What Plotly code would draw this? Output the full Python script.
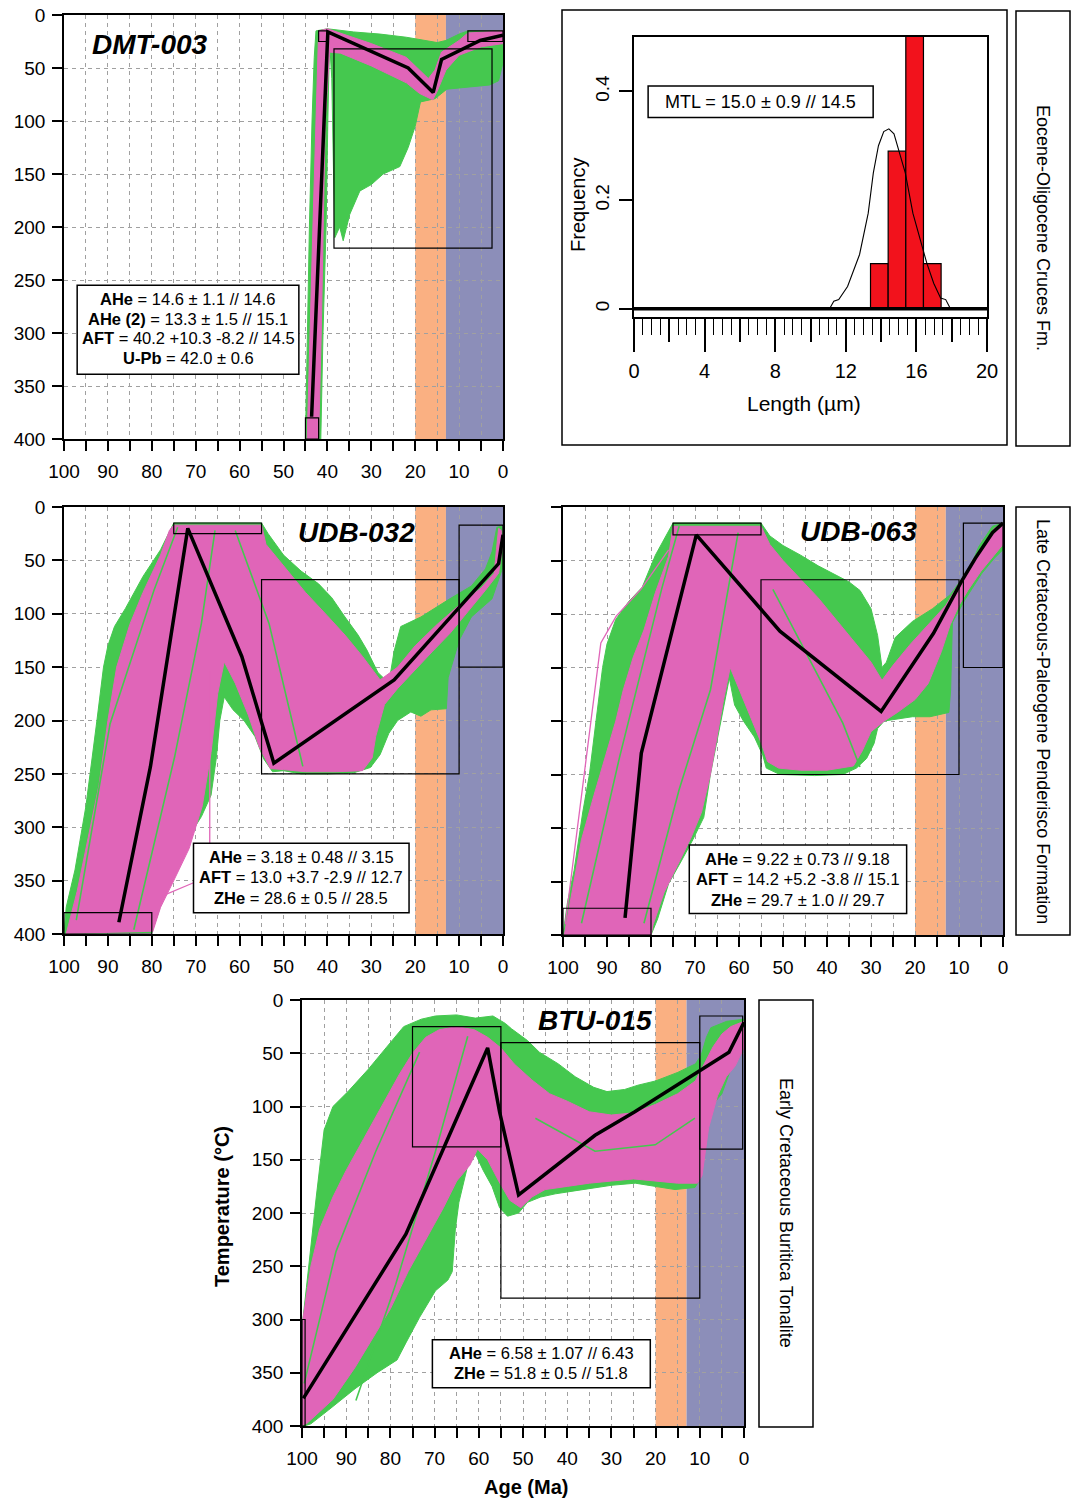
import plotly.graph_objects as go

W, H = 1075, 1501
FONT = "Liberation Sans, Arial, sans-serif"
GREEN = "#45C84F"
PINK = "#E065B8"
ORANGE = "#FAB082"
BLUE = "#8C8EB9"

# ---------------- data ----------------
AGE_TICKS = list(range(0, 101, 10))
AGE_MINOR = list(range(5, 100, 10))
TEMP_TICKS = list(range(0, 401, 50))
BAND_ORANGE = (20, 13)
BAND_BLUE = (13, 0)

# DMT-003
dmt_best_age = [43.6, 39.9, 21.6, 15.9, 14.0, 5.2, 0.0]
dmt_best_temp = [379, 16, 50, 73, 42, 24, 19]
dmt_green_age = [45, 44.6, 44.1, 43.5, 43.0, 42.6, 40, 34, 28, 22, 18, 15, 13, 10, 8, 0, 0, 1, 3, 8, 12.8,
                 15.5, 18.8, 20, 21.6, 23.5, 27.3, 30, 32.6, 34.9, 36.4, 37.2, 38.3, 38.6, 39.0, 39.4, 39.6,
                 39.9, 40.3, 41.0, 41.5]
dmt_green_temp = [400, 300, 200, 100, 40, 15, 13, 16, 18, 21, 24, 26, 24, 18, 15, 15, 45, 62, 66, 68, 70,
                  79, 82, 105, 125, 143, 150, 160, 166, 188, 213, 200, 210, 150, 60, 32, 40,
                  100, 200, 300, 400]
dmt_pink_age = [44.6, 44.0, 43.3, 42.6, 42.2, 42.0, 40, 30, 22, 17, 15.5, 14, 10, 8, 0, 0, 5, 10, 13, 15,
                16, 19, 22, 30, 37, 39.5, 40.5, 40.9, 41.4, 42.0]
dmt_pink_temp = [400, 300, 200, 100, 40, 15, 13, 27, 40, 60, 52, 35, 24, 17, 15, 27, 30, 38, 52, 72,
                 80, 74, 64, 48, 36, 35, 100, 200, 300, 400]
dmt_boxes = [(45, 42, 380, 400), (42, 40, 15, 25), (38.5, 2.5, 32, 220), (8, 0, 15, 25)]
dmt_info = ["<b>AHe</b> = 14.6 ± 1.1 // 14.6", "<b>AHe (2)</b> = 13.3 ± 1.5 // 15.1",
            "<b>AFT</b> = 40.2 +10.3 -8.2 // 14.5", "<b>U-Pb</b> = 42.0 ± 0.6"]

# UDB-032
u32_best_age = [87.5, 80.3, 71.8, 59.5, 52.2, 24.8, 1.0, 0.0]
u32_best_temp = [389, 243, 20, 140, 240, 162, 53, 26]
u32_green_age = [100, 99.5, 97.5, 95, 92.5, 91, 90, 88.5, 86, 82, 78, 75.5, 75, 55, 53.5, 50, 46, 42, 39, 36,
                 33, 31, 28.5, 26, 24.8, 23.3, 18.7, 12.5, 7.2, 4, 2.5, 1.4, 0.3, 0, 0, 2.5, 7.2, 10, 12.5,
                 12.9, 16.4, 18.7, 21, 24, 26, 28, 30.2, 34, 40, 46, 50, 52.5, 54.5, 56.5, 59, 61.5, 63.5,
                 64.5, 65.3, 66.5, 68.7, 71, 74.5, 77, 79, 80]
u32_green_temp = [400, 375, 340, 280, 200, 150, 130, 112, 95, 65, 40, 18, 15, 15, 25, 45, 60, 72, 85, 103,
                  120, 134, 155, 165, 135, 112, 103, 87, 74, 58, 42, 19, 18, 30, 56, 86, 103, 125, 160,
                  189, 190, 196, 192, 200, 212, 232, 244, 249, 250, 250, 247, 248, 236, 215, 200, 190, 178,
                  200, 235, 270, 290, 305, 330, 360, 385, 399]
u32_pink_age = [99.5, 97, 94.5, 92, 90, 88, 85, 82, 78, 76, 75, 55, 54, 50, 45, 40, 36, 32, 28, 24, 20, 15,
                10, 5, 2, 1.5, 1.0, 0.4, 0.2, 1, 4, 8, 12, 16, 20, 24, 27, 29, 29.8, 32, 38, 45, 50, 53,
                55.5, 58, 61, 63.5, 65, 66.5, 68.5, 71.5, 75, 78, 79.8]
u32_pink_temp = [400, 360, 310, 260, 200, 150, 110, 80, 45, 22, 17, 17, 35, 55, 80, 102, 120, 140, 162, 150,
                 130, 110, 92, 76, 62, 40, 20, 22, 40, 62, 78, 98, 118, 135, 152, 170, 185, 215, 235, 247,
                 248, 248, 246, 245, 225, 195, 165, 145, 175, 230, 280, 320, 350, 375, 398]
u32_out_age = [78, 70.5, 66.8, 66.8]
u32_out_temp = [365, 352, 349, 153]
u32_streaks = [([97.2, 89.5, 79.5, 74.1], [387, 203, 78, 19]),
               ([84.1, 74.8, 68.7, 65.6], [396, 234, 109, 22]),
               ([61, 53.3, 47.9, 45.6], [22, 109, 203, 243])]
u32_boxes = [(100, 80, 380, 400), (75, 55, 15, 25), (55, 10, 68, 250), (10, 0, 17, 150)]
u32_info = ["<b>AHe</b> = 3.18 ± 0.48 // 3.15", "<b>AFT</b> = 13.0 +3.7 -2.9 // 12.7",
            "<b>ZHe</b> = 28.6 ± 0.5 // 28.5"]

# UDB-063
u63_best_age = [85.9, 82.2, 69.7, 50.7, 27.7, 15.8, 9.5, 6.3, 2.4, 0.0]
u63_best_temp = [384, 230, 26, 116, 191, 118, 70, 48, 24, 15]
u63_green_age = [100, 99, 97.5, 95.5, 94, 92.5, 91, 90, 88, 85, 82, 79, 76, 75, 55, 53, 50, 46, 42, 38, 35,
                 32.5, 30, 28.5, 27.5, 26.5, 24.5, 20.6, 16, 12, 9.5, 7, 5.5, 2.4, 0, 0, 2, 4.8, 8.7, 11.5,
                 11.9, 12.3, 16.6, 20.6, 27, 28.5, 29.3, 31, 33.3, 36.4, 42.8, 50.7, 53.8, 54.6, 56.5, 59,
                 61, 62.2, 63.3, 65, 66.5, 68, 70.5, 73, 76, 78.5, 80]
u63_green_temp = [400, 370, 340, 285, 250, 200, 150, 128, 105, 88, 75, 45, 22, 15, 15, 27, 36, 45, 55, 64,
                  70, 78, 95, 120, 150, 145, 122, 107, 95, 82, 68, 52, 37, 18, 15, 40, 48, 62, 87, 108,
                  171, 192, 196, 196, 200, 207, 221, 235, 244, 250, 251, 250, 244, 232, 215, 200, 185, 160,
                  183, 218, 250, 290, 311, 330, 352, 385, 400]
u63_pink_age = [99.7, 97.5, 95.8, 93, 90.3, 88, 86.3, 84, 81.6, 79, 76, 75, 55, 53, 50, 46, 42, 38, 34, 30,
                27.5, 25, 21, 17, 13, 10, 7, 4, 2, 0, 0, 2, 5, 8, 10, 12, 14, 17, 20, 24, 27, 30, 32, 34,
                40, 46, 51, 53.5, 55, 57.5, 60, 62, 63.5, 65, 66.5, 68.5, 71, 74, 77, 79.5, 80]
u63_pink_temp = [400, 350, 311, 270, 233, 200, 171, 140, 115, 80, 46, 18, 18, 35, 50, 68, 85, 105, 125, 145,
                 162, 148, 128, 110, 92, 72, 52, 32, 20, 16, 35, 45, 60, 78, 92, 110, 135, 165, 180, 192,
                 200, 210, 228, 242, 246, 246, 244, 238, 220, 195, 170, 150, 180, 215, 250, 285, 310, 335,
                 360, 390, 400]
u63_out_age = [99.5, 91.4, 87.9, 82.3, 76]
u63_out_temp = [390, 127, 102, 77, 40]
u63_streaks = [([95.8, 87.1, 77.6, 73.6], [389, 233, 77, 18]),
               ([81.6, 73.6, 66.5, 60.2], [389, 264, 171, 24]),
               ([52.3, 44.3, 36.4, 32.5], [77, 140, 202, 243])]
u63_boxes = [(100, 80, 375, 400), (75, 55, 15, 26), (55, 10, 68, 250), (9, 0, 15, 150)]
u63_info = ["<b>AHe</b> = 9.22 ± 0.73 // 9.18", "<b>AFT</b> = 14.2 +5.2 -3.8 // 15.1",
            "<b>ZHe</b> = 29.7 ± 1.0 // 29.7"]

# BTU-015
btu_best_age = [99.7, 76.5, 58.0, 55.3, 51.0, 33.7, 24.7, 3.4, 0.0]
btu_best_temp = [374, 220, 45, 105, 183, 127, 105, 49, 21]
btu_green_age = [100, 99.8, 99, 97.5, 96.8, 95, 93, 89.6, 85, 81, 77, 73, 69.8, 65, 60.8, 56.8, 54, 52.6,
                 49, 46.3, 42, 38.2, 34, 31, 27, 24, 20, 15, 11, 9.7, 8.5, 7.5, 3.9, 0, 0, 2, 3, 5, 6.6, 9,
                 9.8, 10.2, 11.1, 15.6, 20, 24.6, 30, 33.7, 38, 42.7, 46, 49, 51, 53.5, 55.3, 57, 59, 60.7,
                 62.6, 64.5, 65.3, 66, 67, 69.8, 73.4, 76.5, 78.5, 83, 88, 94, 98, 99.5]
btu_green_temp = [400, 300, 270, 210, 186, 122, 100, 86, 65, 45, 25, 18, 15, 14, 17, 15, 22, 27, 38, 49,
                  60, 72, 82, 86, 84, 80, 76, 68, 60, 52, 35, 26, 20, 18, 45, 60, 65, 88, 96, 110, 135,
                  170, 176, 178, 175, 172, 174, 176, 179, 182, 185, 190, 200, 203, 195, 175, 160, 145, 157,
                  190, 215, 255, 263, 273, 298, 322, 338, 350, 365, 385, 398, 400]
btu_pink_age = [100, 99.8, 98, 96, 93, 90, 86, 82, 78, 75, 72, 69, 65, 61, 58, 55, 52, 48, 44, 40, 35, 30,
                25, 20, 15, 11, 9, 7, 5, 3, 0, 0, 2, 4, 6, 8, 9.5, 10.5, 15, 20, 25, 30, 35, 40, 45, 48,
                50.5, 53, 55.5, 58, 60.3, 62, 65, 68, 72, 76, 80, 84, 88, 93, 99]
btu_pink_temp = [400, 300, 250, 215, 185, 160, 130, 100, 70, 50, 35, 28, 25, 28, 35, 45, 60, 75, 88, 95,
                 105, 108, 106, 98, 88, 76, 60, 44, 32, 25, 20, 45, 62, 72, 90, 120, 165, 172, 172, 170,
                 168, 170, 172, 175, 178, 185, 195, 188, 170, 150, 140, 155, 170, 195, 225, 255, 290, 318,
                 345, 375, 398]
btu_streaks = [([99.5, 92.3, 83.3, 73.4], [360, 236, 142, 49]),
               ([87.8, 78.8, 69.8, 62.5], [376, 267, 142, 34]),
               ([47.2, 33.7, 20.1, 11.1], [111, 142, 136, 111])]
btu_boxes = [(100, 99.3, 300, 400), (75, 55, 25, 138), (55, 10, 40, 280), (10, 0.3, 15, 140)]
btu_info = ["<b>AHe</b> = 6.58 ± 1.07 // 6.43", "<b>ZHe</b> = 51.8 ± 0.5 // 51.8"]

# Track-length histogram (DMT-003)
hist_bin_left = [13.4, 14.4, 15.4, 16.4]
hist_freq = [0.083, 0.29, 0.54, 0.083]
pdf_len = [11.08, 11.32, 11.6, 12.1, 12.78, 13.27, 13.56, 13.85, 14.15, 14.44, 14.73, 15.02, 15.37, 15.8,
           16.2, 16.59, 16.98, 17.37, 17.66, 17.9]
pdf_freq = [0.0, 0.014, 0.017, 0.041, 0.10, 0.176, 0.25, 0.30, 0.326, 0.331, 0.322, 0.29, 0.25, 0.176,
            0.127, 0.084, 0.047, 0.02, 0.017, 0.002]
LEN_MAJOR = [0, 4, 8, 12, 16, 20]
LEN_MID = [2, 6, 10, 14, 18]
FREQ_TICKS = [0, 0.2, 0.4]

# ---------------- helpers ----------------
def dom_x(a, b):
    return [a / W, b / W]


def dom_y(top, bottom):
    return [1 - bottom / H, 1 - top / H]


fig = go.Figure()
shapes = []
annotations = []

GRID = dict(showgrid=True, gridcolor="#a0a0a0", griddash="4px,4px", gridwidth=1)


def thermal_axes(n, xd, yd, ylabels=True):
    xa = dict(domain=dom_x(*xd), range=[100, 0], anchor=f"y{n}", tickmode="array", tickvals=AGE_TICKS,
              ticks="outside", ticklen=10, tickwidth=1.5, tickcolor="black", showline=True,
              linecolor="black", linewidth=1.5, mirror=True, zeroline=False, automargin=False,
              tickfont=dict(size=19, family=FONT, color="black"), ticklabelstandoff=4,
              minor=dict(tickmode="array", tickvals=AGE_MINOR, ticks="outside", ticklen=10, tickwidth=1.5,
                         tickcolor="black", **GRID), **GRID)
    ya = dict(domain=dom_y(*yd), range=[400, 0], anchor=f"x{n}", tickmode="array", tickvals=TEMP_TICKS,
              ticks="outside", ticklen=10, tickwidth=1.5, tickcolor="black", showline=True,
              linecolor="black", linewidth=1.5, mirror=True, zeroline=False, showticklabels=ylabels,
              automargin=False,
              tickfont=dict(size=19, family=FONT, color="black"), ticklabelstandoff=3, **GRID)
    return xa, ya


def panel(n, green, pink, best, boxes, info, info_rect, label, label_pos, outliers=None, streaks=None):
    xr, yr = f"x{n}", f"y{n}"
    for (a0, a1), col in ((BAND_ORANGE, ORANGE), (BAND_BLUE, BLUE)):
        shapes.append(dict(type="rect", xref=xr, yref=yr, x0=a0, x1=a1, y0=0, y1=400,
                           fillcolor=col, line=dict(width=0), layer="below"))
    fig.add_trace(go.Scatter(x=green[0], y=green[1], fill="toself", fillcolor=GREEN, mode="lines",
                             line=dict(color=GREEN, width=1), xaxis=xr, yaxis=yr, hoverinfo="skip"))
    fig.add_trace(go.Scatter(x=pink[0], y=pink[1], fill="toself", fillcolor=PINK, mode="lines",
                             line=dict(color=PINK, width=1), xaxis=xr, yaxis=yr, hoverinfo="skip"))
    if streaks:
        for (sx, sy) in streaks:
            fig.add_trace(go.Scatter(x=sx, y=sy, mode="lines", line=dict(color=GREEN, width=1.6),
                                     xaxis=xr, yaxis=yr, hoverinfo="skip"))
    if outliers:
        for (ox, oy, oc) in outliers:
            fig.add_trace(go.Scatter(x=ox, y=oy, mode="lines", line=dict(color=oc, width=1.3),
                                     xaxis=xr, yaxis=yr, hoverinfo="skip"))
    fig.add_trace(go.Scatter(x=best[0], y=best[1], mode="lines", line=dict(color="black", width=3.5),
                             xaxis=xr, yaxis=yr, hoverinfo="skip"))
    for (a0, a1, t0, t1) in boxes:
        shapes.append(dict(type="rect", xref=xr, yref=yr, x0=a0, x1=a1, y0=t0, y1=t1,
                           line=dict(color="black", width=1.2), layer="above"))
    a0, a1, t0, t1, temps = info_rect
    shapes.append(dict(type="rect", xref=xr, yref=yr, x0=a0, x1=a1, y0=t0, y1=t1, fillcolor="white",
                       line=dict(color="black", width=1.5), layer="above"))
    for txt, t in zip(info, temps):
        annotations.append(dict(xref=xr, yref=yr, x=(a0 + a1) / 2, y=t, text=txt, showarrow=False,
                                font=dict(size=16.5, family=FONT, color="black"), xanchor="center",
                                yanchor="middle"))
    annotations.append(dict(xref=xr, yref=yr, x=label_pos[0], y=label_pos[1], text=f"<b><i>{label}</i></b>",
                            showarrow=False, font=dict(size=28, family=FONT, color="black"),
                            xanchor="center", yanchor="middle"))


# panels
layout_axes = {}
xa, ya = thermal_axes(1, (64, 503), (15, 439))
layout_axes["xaxis"], layout_axes["yaxis"] = xa, ya
panel(1, (dmt_green_age, dmt_green_temp), (dmt_pink_age, dmt_pink_temp), (dmt_best_age, dmt_best_temp),
      dmt_boxes, dmt_info, (97, 46.5, 255, 339, [268, 286.5, 305, 323.5]), "DMT-003", (80.4, 28))

xa, ya = thermal_axes(3, (64, 503), (507, 934))
layout_axes["xaxis3"], layout_axes["yaxis3"] = xa, ya
panel(3, (u32_green_age, u32_green_temp), (u32_pink_age, u32_pink_temp), (u32_best_age, u32_best_temp),
      u32_boxes, u32_info, (70.5, 21.4, 315, 380, [328, 347, 366]), "UDB-032", (33.3, 23.5),
      outliers=[(u32_out_age, u32_out_temp, PINK)], streaks=u32_streaks)

xa, ya = thermal_axes(4, (563, 1003), (507, 935), ylabels=False)
layout_axes["xaxis4"], layout_axes["yaxis4"] = xa, ya
panel(4, (u63_green_age, u63_green_temp), (u63_pink_age, u63_pink_temp), (u63_best_age, u63_best_temp),
      u63_boxes, u63_info, (71.3, 21.9, 316, 380, [329, 348, 367]), "UDB-063", (32.9, 23),
      outliers=[(u63_out_age, u63_out_temp, PINK)], streaks=u63_streaks)

xa, ya = thermal_axes(5, (302, 744), (1000, 1426))
layout_axes["xaxis5"], layout_axes["yaxis5"] = xa, ya
panel(5, (btu_green_age, btu_green_temp), (btu_pink_age, btu_pink_temp), (btu_best_age, btu_best_temp),
      btu_boxes, btu_info, (70.5, 21.2, 319, 364, [331, 350]), "BTU-015", (33.7, 19.6), streaks=btu_streaks)

# ---------------- histogram ----------------
bar_w = [hist_bin_left[i + 1] - hist_bin_left[i] for i in range(len(hist_bin_left) - 1)]
bar_w.append(bar_w[-1])
bar_c = [l + w / 2 for l, w in zip(hist_bin_left, bar_w)]
fig.add_trace(go.Bar(x=bar_c, y=hist_freq, width=bar_w, marker=dict(color="#F2121C", line=dict(color="black", width=1.2)),
                     xaxis="x2", yaxis="y2", hoverinfo="skip"))
fig.add_trace(go.Scatter(x=pdf_len, y=pdf_freq, mode="lines", line=dict(color="black", width=1.1),
                         xaxis="x2", yaxis="y2", hoverinfo="skip"))
fig.add_trace(go.Scatter(x=[LEN_MAJOR[0], LEN_MAJOR[-1]], y=[0, 0], mode="lines",
                         line=dict(color="black", width=3.5), xaxis="x2", yaxis="y2", hoverinfo="skip"))
fig.add_trace(go.Scatter(x=[LEN_MAJOR[0], LEN_MAJOR[-1]], y=[0, 0], mode="lines", opacity=0,
                         xaxis="x6", yaxis="y2", hoverinfo="skip"))

layout_axes["xaxis2"] = dict(domain=dom_x(634, 987), range=[0, 20], anchor="y2", tickmode="array",
                             tickvals=LEN_MAJOR, ticks="outside", ticklen=33, tickwidth=1.5, tickcolor="black",
                             showline=True, linecolor="black", linewidth=1.5, mirror=True, showgrid=False,
                             zeroline=False, tickfont=dict(size=20, family=FONT, color="black"),
                             ticklabelstandoff=2, automargin=False,
                             minor=dict(dtick=0.5, tick0=0, ticks="outside", ticklen=16, tickwidth=1.3,
                                        tickcolor="black", showgrid=False))
layout_axes["xaxis6"] = dict(overlaying="x2", range=[0, 20], anchor="y2", side="bottom", tickmode="array",
                             tickvals=LEN_MID, ticks="outside", ticklen=24, tickwidth=1.5, tickcolor="black",
                             showticklabels=False, showgrid=False, zeroline=False, showline=False,
                             automargin=False)
layout_axes["yaxis2"] = dict(domain=dom_y(37, 317), range=[-0.015, 0.5], anchor="x2", tickmode="array",
                             tickvals=FREQ_TICKS, ticktext=["0", "0.2", "0.4"], ticks="outside", ticklen=13,
                             tickwidth=1.5, tickcolor="black", showline=True, linecolor="black", linewidth=1.5,
                             mirror=True, showgrid=False, zeroline=False, tickangle=-90, automargin=False,
                             tickfont=dict(size=19, family=FONT, color="black"), ticklabelstandoff=3)

shapes.append(dict(type="rect", xref="x2", yref="y2", x0=0.8, x1=13.55, y0=0.352, y1=0.41,
                   fillcolor="white", line=dict(color="black", width=1.5), layer="above"))
annotations.append(dict(xref="x2", yref="y2", x=(0.8 + 13.55) / 2, y=0.381, text="MTL = 15.0 ± 0.9 // 14.5",
                        showarrow=False, font=dict(size=18, family=FONT, color="black")))

# outer frame of histogram panel and vertical formation boxes
def paper_rect(x0, y0, x1, y1):
    shapes.append(dict(type="rect", xref="paper", yref="paper", x0=x0 / W, x1=x1 / W, y0=1 - y1 / H,
                       y1=1 - y0 / H, line=dict(color="black", width=1.5), layer="above"))


paper_rect(562, 10, 1007, 445)
paper_rect(1016, 11, 1070, 446)
paper_rect(1016, 507, 1070, 935)
paper_rect(759, 1000, 813, 1427)


def paper_text(x, y, text, size, angle=0, bold=False):
    t = f"<b>{text}</b>" if bold else text
    annotations.append(dict(xref="paper", yref="paper", x=x / W, y=1 - y / H, text=t, showarrow=False,
                            textangle=angle, font=dict(size=size, family=FONT, color="black"),
                            xanchor="center", yanchor="middle"))


paper_text(1043, 228, "Eocene-Oligocene Cruces Fm.", 18, angle=90)
paper_text(1043, 721, "Late Cretaceous-Paleogene Penderisco Formation", 18, angle=90)
paper_text(786, 1213, "Early Cretaceous Buritica Tonalite", 18, angle=90)
paper_text(804, 403, "Length (µm)", 21)
paper_text(578, 205, "Frequency", 20, angle=-90)
paper_text(222, 1207, "Temperature (°C)", 20, angle=-90, bold=True)
paper_text(526, 1487, "Age (Ma)", 20, bold=True)

fig.update_layout(template="none", width=W, height=H, margin=dict(l=0, r=0, t=0, b=0, pad=0),
                  showlegend=False,
                  plot_bgcolor="white", paper_bgcolor="white", font=dict(family=FONT, color="black"),
                  shapes=shapes, annotations=annotations, **layout_axes)

fig.write_html("out.html", config={"displayModeBar": False},
               post_script="document.body.style.margin='0';document.body.style.padding='0';"
                           "document.body.style.overflow='hidden';")
